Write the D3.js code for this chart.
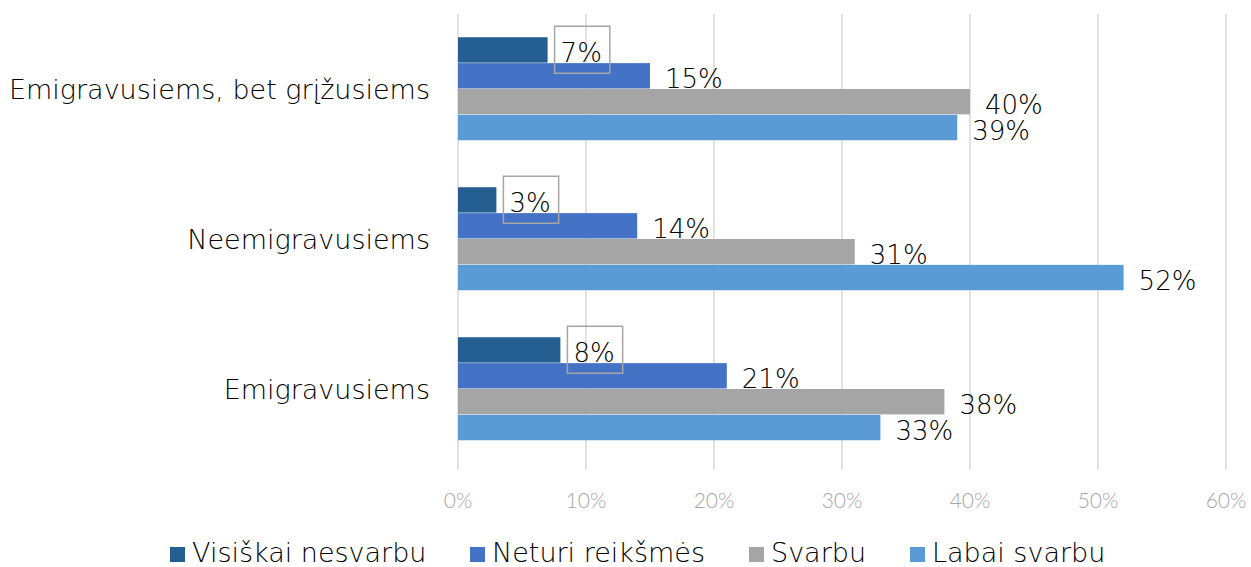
<!DOCTYPE html>
<html><head><meta charset="utf-8">
<script src="https://cdn.jsdelivr.net/npm/d3@7"></script>
<style>body{margin:0;background:#fff}svg{display:block}</style>
</head><body>
<script>
const categories = ["Emigravusiems, bet grįžusiems", "Neemigravusiems", "Emigravusiems"];
const seriesNames = ["Visiškai nesvarbu", "Neturi reikšmės", "Svarbu", "Labai svarbu"];
const visiskaiNesvarbu = [7, 3, 8];
const neturiReiksmes = [15, 14, 21];
const svarbu = [40, 31, 38];
const labaiSvarbu = [39, 52, 33];
const tickValues = [0, 10, 20, 30, 40, 50, 60];
const colors = ["#255E91", "#4472C4", "#A5A5A5", "#5B9BD5"];
const seriesValues = [visiskaiNesvarbu, neturiReiksmes, svarbu, labaiSvarbu];

const W = 1251, H = 567;
const font = "'DejaVu Sans', sans-serif";
const tickFont = "Lato, sans-serif";
const svg = d3.select("body").append("svg").attr("width", W).attr("height", H);

const x = d3.scaleLinear().domain([0, 60]).range([458, 1226]);
const y = d3.scaleBand().domain(categories).range([14, 464]).paddingInner(0.31).paddingOuter(0.155);
const yi = d3.scaleBand().domain(seriesNames).range([0, y.bandwidth()]);

// gridlines
svg.append("g").selectAll("line").data(tickValues).join("line")
  .attr("x1", d => x(d)).attr("x2", d => x(d))
  .attr("y1", 14).attr("y2", 469)
  .attr("stroke", "#D9D9D9").attr("stroke-width", 1.5);

// axis tick labels
svg.append("g").selectAll("text").data(tickValues).join("text")
  .attr("x", d => x(d)).attr("y", 508)
  .attr("text-anchor", "middle")
  .attr("font-family", tickFont).attr("font-size", 21).attr("font-weight", 300)
  .attr("fill", "#A6A6A6").text(d => d + "%");

// category labels
svg.append("g").selectAll("text").data(categories).join("text")
  .attr("x", 430).attr("y", d => y(d) + y.bandwidth() / 2 + 10)
  .attr("text-anchor", "end")
  .attr("font-family", font).attr("font-size", 27).attr("font-weight", 200)
  .attr("fill", "#000").text(d => d);

// bars
const rows = [];
categories.forEach((c, ci) => seriesNames.forEach((s, si) => rows.push({c, s, si, v: seriesValues[si][ci]})));

svg.append("g").selectAll("rect").data(rows).join("rect")
  .attr("x", x(0)).attr("y", d => y(d.c) + yi(d.s))
  .attr("width", d => x(d.v) - x(0)).attr("height", yi.bandwidth() - 0.5)
  .attr("fill", d => colors[d.si]);

// data labels
const lg = svg.append("g");
rows.forEach(d => {
  const barTop = y(d.c) + yi(d.s);
  const boxed = d.si === 0;
  const cx = x(d.v) + (boxed ? 13 : 15);
  const cy = barTop + yi.bandwidth() / 2 + 12;
  const t = lg.append("text").attr("x", cx).attr("y", cy)
    .attr("font-family", font).attr("font-size", 26).attr("font-weight", 200).attr("fill", "#000")
    .text(d.v + "%");
  if (boxed) {
    const bb = t.node().getBBox();
    lg.insert("rect", "text").attr("x", x(d.v) + 7).attr("y", barTop - 11)
      .attr("width", bb.width + 14).attr("height", 47)
      .attr("fill", "none").attr("stroke", "#A6A6A6").attr("stroke-width", 1.5);
  }
});

// legend
const legendX = [170, 470, 749, 910];
const leg = svg.append("g").selectAll("g").data(seriesNames).join("g")
  .attr("transform", (d, i) => `translate(${legendX[i]},0)`);
leg.append("rect").attr("x", 0).attr("y", 547).attr("width", 15).attr("height", 15)
  .attr("fill", (d, i) => colors[i]);
leg.append("text").attr("x", 22).attr("y", 562)
  .attr("font-family", font).attr("font-size", 27).attr("font-weight", 200).attr("fill", "#000").text(d => d);
</script>
</body></html>
